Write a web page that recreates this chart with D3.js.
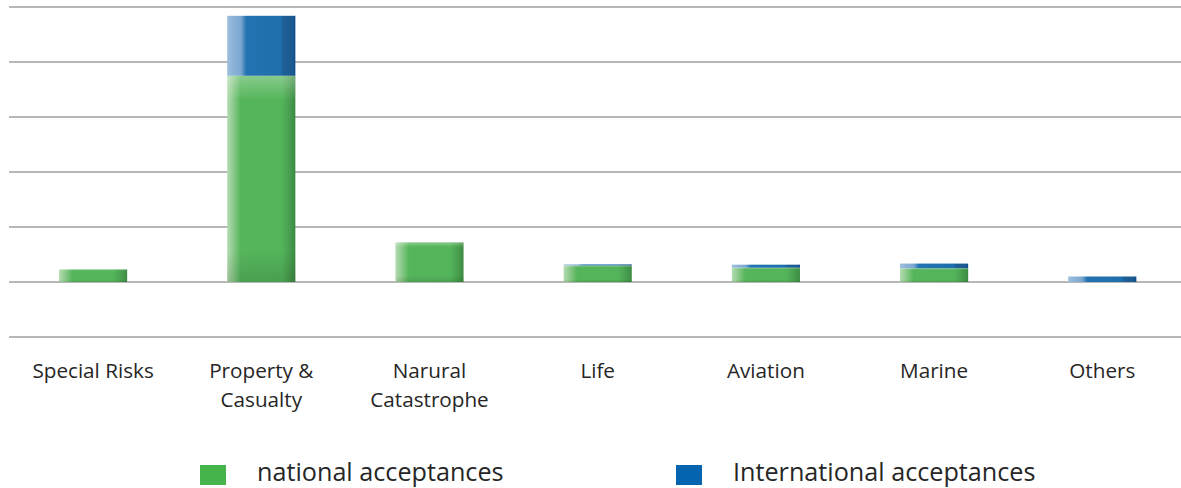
<!DOCTYPE html>
<html>
<head>
<meta charset="utf-8">
<script src="https://cdn.jsdelivr.net/npm/d3@7"></script>
<style>
  body { margin: 0; background: #fff; }
  svg text { font-family: "Open Sans", Lato, sans-serif; fill: #262626; }
</style>
</head>
<body>
<svg id="chart" width="1181" height="488"></svg>
<script>
// data (units = one gridline step)
var categories = ["Special Risks", "Property &\nCasualty", "Narural\nCatastrophe", "Life", "Aviation", "Marine", "Others"];
var national = [0.23, 3.75, 0.72, 0.30, 0.26, 0.25, 0];
var international = [0, 1.09, 0, 0.02, 0.055, 0.085, 0.10];
var yTicks = [-1, 0, 1, 2, 3, 4, 5];
var seriesNames = ["national acceptances", "International acceptances"];

var svg = d3.select("#chart");
var margin = {left: 9, top: 7, bottom: 151};
var W = 1181, H = 488;
var step = 168.2;

var x = d3.scaleBand()
  .domain(categories)
  .range([margin.left, margin.left + step * categories.length])
  .paddingInner(0.595)
  .paddingOuter(0.2975);

var y = d3.scaleLinear()
  .domain([-1, 5])
  .range([H - margin.bottom, margin.top]);

// gradients
var defs = svg.append("defs");
function hGrad(id, stops) {
  var g = defs.append("linearGradient").attr("id", id)
    .attr("x1", 0).attr("x2", 1).attr("y1", 0).attr("y2", 0);
  stops.forEach(function(s) {
    g.append("stop").attr("offset", s[0]).attr("stop-color", s[1]);
  });
}
hGrad("gGreen", [[0, "#b3dcb1"], [0.08, "#8fcc8f"], [0.2, "#55b55b"], [0.8, "#53b45a"], [0.92, "#479e4d"], [1, "#3d8a43"]]);
hGrad("gBlue", [[0, "#9bbedd"], [0.2, "#7aa7d1"], [0.28, "#2373b2"], [0.78, "#1f6fad"], [0.82, "#1e5f96"], [0.96, "#1b5a90"], [1, "#0a4a88"]]);

var shade = defs.append("linearGradient").attr("id", "gShade")
  .attr("x1", 0).attr("x2", 0).attr("y1", 0).attr("y2", 1);
shade.append("stop").attr("offset", 0).attr("stop-color", "#ffffff").attr("stop-opacity", 0.3);
shade.append("stop").attr("offset", 0.12).attr("stop-color", "#ffffff").attr("stop-opacity", 0.0);
shade.append("stop").attr("offset", 0.85).attr("stop-color", "#000000").attr("stop-opacity", 0.0);
shade.append("stop").attr("offset", 1).attr("stop-color", "#000000").attr("stop-opacity", 0.12);

// gridlines
svg.append("g").selectAll("line")
  .data(yTicks)
  .enter().append("line")
  .attr("x1", margin.left)
  .attr("x2", W)
  .attr("y1", function(d) { return y(d); })
  .attr("y2", function(d) { return y(d); })
  .attr("stroke", "#b7b7b7")
  .attr("stroke-width", 2);

// stacked bars
var rows = categories.map(function(c, i) {
  return {cat: c, nat: national[i], intl: international[i]};
});

var bars = svg.append("g");
rows.forEach(function(d) {
  if (d.nat > 0) {
    bars.append("rect")
      .attr("x", x(d.cat)).attr("width", x.bandwidth())
      .attr("y", y(d.nat)).attr("height", y(0) - y(d.nat))
      .attr("fill", "url(#gGreen)");
    bars.append("rect")
      .attr("x", x(d.cat)).attr("width", x.bandwidth())
      .attr("y", y(d.nat)).attr("height", y(0) - y(d.nat))
      .attr("fill", "url(#gShade)");
  }
  if (d.intl > 0) {
    bars.append("rect")
      .attr("x", x(d.cat)).attr("width", x.bandwidth())
      .attr("y", y(d.nat + d.intl)).attr("height", y(d.nat) - y(d.nat + d.intl))
      .attr("fill", "url(#gBlue)");
  }
});

// category labels
var labels = svg.append("g").attr("font-size", 20.7).attr("text-anchor", "middle");
categories.forEach(function(c) {
  var cx = x(c) + x.bandwidth() / 2;
  var t = labels.append("text").attr("x", cx).attr("y", 378);
  c.split("\n").forEach(function(line, i) {
    t.append("tspan")
      .attr("x", cx)
      .attr("dy", i === 0 ? 0 : 29)
      .text(line);
  });
});

// legend
var legendColors = ["#45b54b", "#0564b0"];
var legendX = [200, 676];
var legend = svg.append("g");
seriesNames.forEach(function(name, i) {
  legend.append("rect")
    .attr("x", legendX[i]).attr("y", 465)
    .attr("width", 26).attr("height", 20)
    .attr("fill", legendColors[i]);
  legend.append("text")
    .attr("x", legendX[i] + 57).attr("y", 481)
    .attr("font-size", 25.2)
    .text(name);
});
</script>
</body>
</html>
